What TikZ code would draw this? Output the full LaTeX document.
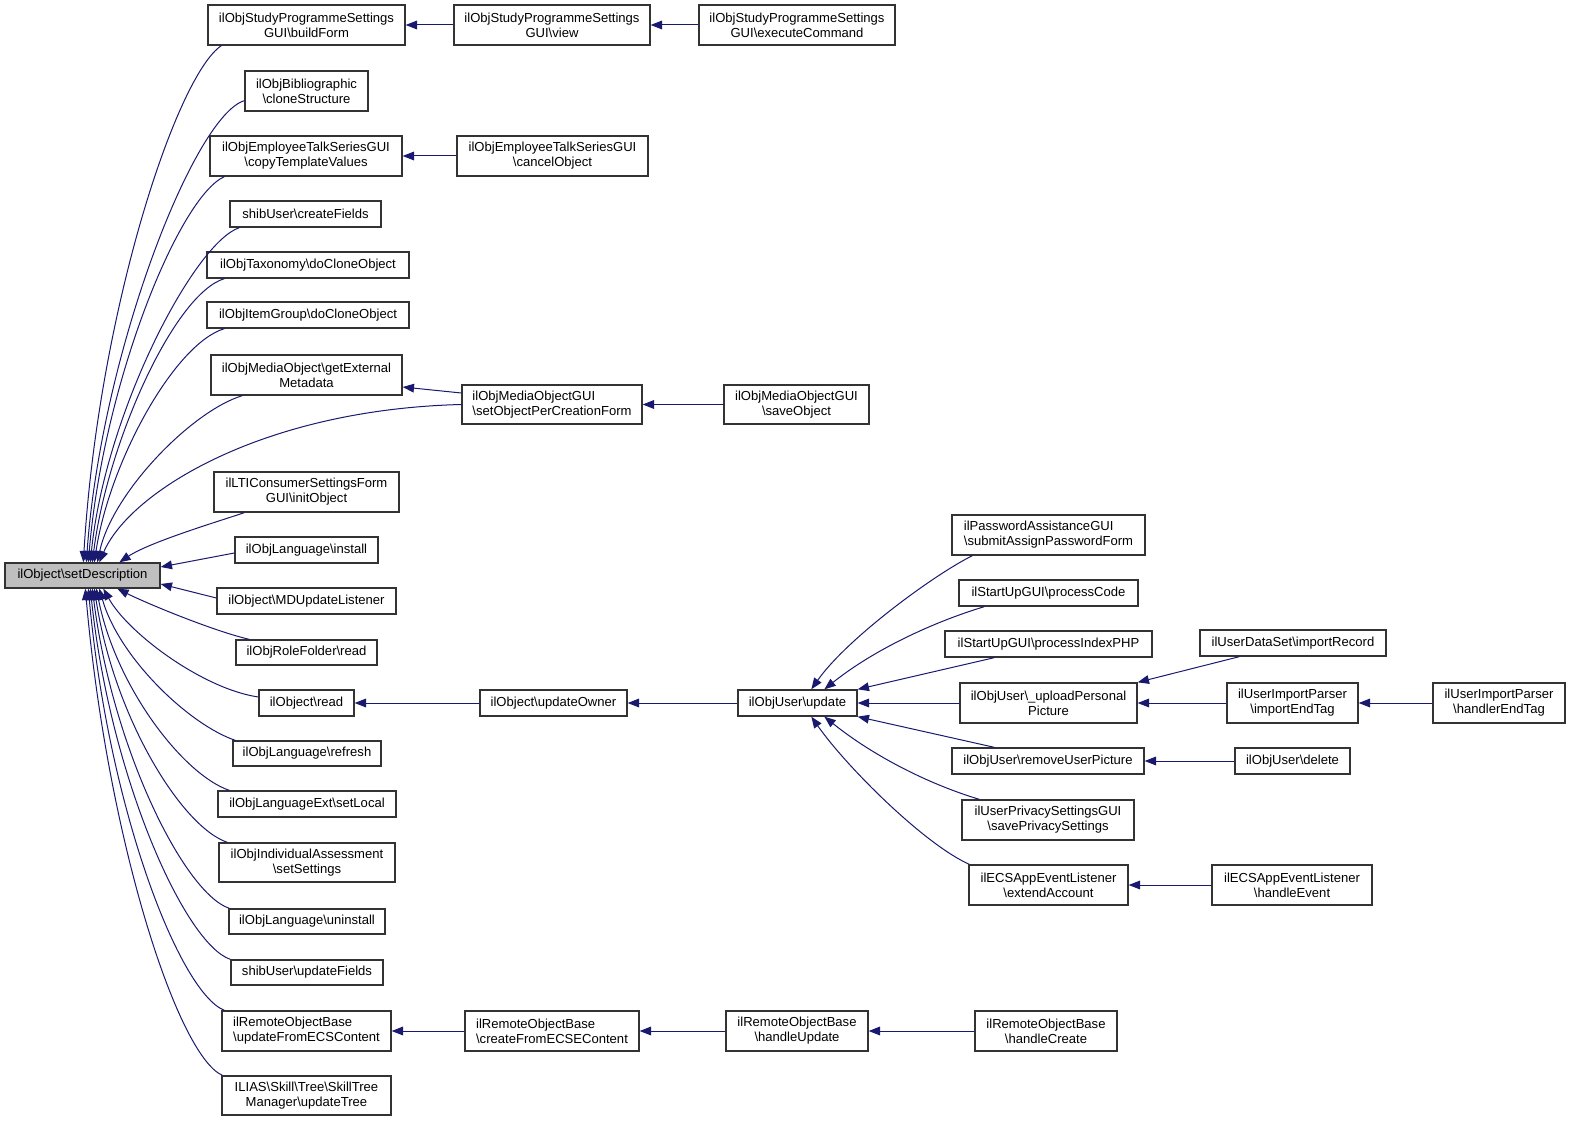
\documentclass[tikz,border=0pt]{standalone}
\usepackage{fontspec}
\setmainfont{Liberation Sans}
\usetikzlibrary{arrows.meta,calc}
\definecolor{edgeblue}{HTML}{191970}
\definecolor{rootgray}{HTML}{BFBFBF}
\definecolor{boxline}{HTML}{333333}
\newcommand\bk{\textbackslash}
\newcommand\bx[7]{\node[box,#7,minimum width=#4*0.75pt,minimum height=#5*0.75pt] (#1) at (#2,#3) {#6};}
\begin{document}
\begin{tikzpicture}[x=0.75pt,y=-0.75pt,
  box/.style={draw=boxline, line width=1pt, fill=white, inner sep=0pt, font=\fontsize{9.8}{11.25}\selectfont},
  calledge/.style={draw=edgeblue, line width=0.75pt, {Triangle[length=8.5pt,width=6.5pt]}-}]
\fill[white] (0,0) rectangle (1571,1123);
\useasboundingbox (0,0) rectangle (1571,1123);
% root
\bx{root}{82.5}{575.5}{155}{25}{ilObject\bk setDescription}{fill=rootgray,align=center}
% column 1
\bx{c1}{306.5}{25}{197}{40}{ilObjStudyProgrammeSettings\\GUI\bk buildForm}{align=center}
\bx{c2}{306.5}{91}{123}{40}{ilObjBibliographic\\\bk cloneStructure}{align=center}
\bx{c3}{306}{156}{192}{40}{ilObjEmployeeTalkSeriesGUI\\\bk copyTemplateValues}{align=center}
\bx{c4}{305.5}{214}{151}{26}{shibUser\bk createFields}{align=center}
\bx{c5}{308}{265}{202}{26}{ilObjTaxonomy\bk doCloneObject}{align=center}
\bx{c6}{308}{315}{202}{26}{ilObjItemGroup\bk doCloneObject}{align=center}
\bx{c7}{306.5}{375}{191}{40}{ilObjMediaObject\bk getExternal\\Metadata}{align=center}
\bx{c8}{306.5}{492}{185}{40}{ilLTIConsumerSettingsForm\\GUI\bk initObject}{align=center}
\bx{c9}{306.5}{550}{143}{26}{ilObjLanguage\bk install}{align=center}
\bx{c10}{306.5}{601}{179}{26}{ilObject\bk MDUpdateListener}{align=center}
\bx{c11}{306.5}{652.5}{141}{25}{ilObjRoleFolder\bk read}{align=center}
\bx{c12}{306.5}{703}{95}{26}{ilObject\bk read}{align=center}
\bx{c13}{307}{753.5}{148}{25}{ilObjLanguage\bk refresh}{align=center}
\bx{c14}{307}{804}{178}{26}{ilObjLanguageExt\bk setLocal}{align=center}
\bx{c15}{307}{862.5}{176}{39}{ilObjIndividualAssessment\\\bk setSettings}{align=center}
\bx{c16}{307}{921.5}{156}{25}{ilObjLanguage\bk uninstall}{align=center}
\bx{c17}{307}{972.5}{152}{25}{shibUser\bk updateFields}{align=center}
\bx{c18}{306.5}{1031}{169}{40}{ilRemoteObjectBase\\\bk updateFromECSContent}{align=left}
\bx{c19}{306.5}{1095.5}{169}{39}{ILIAS\bk Skill\bk Tree\bk SkillTree\\Manager\bk updateTree}{align=center}
% column 2
\bx{view}{552}{25}{196}{40}{ilObjStudyProgrammeSettings\\GUI\bk view}{align=center}
\bx{cancel}{552.5}{156}{191}{40}{ilObjEmployeeTalkSeriesGUI\\\bk cancelObject}{align=center}
\bx{setpcf}{552}{404.5}{180}{39}{ilObjMediaObjectGUI\\\bk setObjectPerCreationForm}{align=left}
\bx{owner}{553.5}{703}{147}{26}{ilObject\bk updateOwner}{align=center}
\bx{cfecse}{552}{1031}{174}{40}{ilRemoteObjectBase\\\bk createFromECSEContent}{align=left}
% column 3
\bx{exec}{797}{25}{196}{40}{ilObjStudyProgrammeSettings\\GUI\bk executeCommand}{align=center}
\bx{saveobj}{796.5}{404.5}{145}{39}{ilObjMediaObjectGUI\\\bk saveObject}{align=center}
\bx{update}{797.5}{703}{119}{26}{ilObjUser\bk update}{align=center}
\bx{hupdate}{797}{1031}{142}{40}{ilRemoteObjectBase\\\bk handleUpdate}{align=center}
% column 4
\bx{submit}{1048.5}{535}{193}{40}{ilPasswordAssistanceGUI\\\bk submitAssignPasswordForm}{align=left}
\bx{pcode}{1048.5}{593}{179}{26}{ilStartUpGUI\bk processCode}{align=center}
\bx{pindex}{1048.5}{644}{207}{26}{ilStartUpGUI\bk processIndexPHP}{align=center}
\bx{upload}{1048.5}{703}{177}{40}{ilObjUser\bk \_uploadPersonal\\Picture}{align=center}
\bx{rmpic}{1048}{761}{192}{26}{ilObjUser\bk removeUserPicture}{align=center}
\bx{privacy}{1048}{820}{172}{40}{ilUserPrivacySettingsGUI\\\bk savePrivacySettings}{align=center}
\bx{extend}{1048.5}{885}{159}{40}{ilECSAppEventListener\\\bk extendAccount}{align=center}
\bx{hcreate}{1046}{1031}{142}{40}{ilRemoteObjectBase\\\bk handleCreate}{align=center}
% column 5
\bx{irecord}{1293}{643}{186}{26}{ilUserDataSet\bk importRecord}{align=center}
\bx{iendtag}{1292.5}{703}{131}{40}{ilUserImportParser\\\bk importEndTag}{align=center}
\bx{udelete}{1292.5}{761}{115}{26}{ilObjUser\bk delete}{align=center}
\bx{hevent}{1292}{885}{160}{40}{ilECSAppEventListener\\\bk handleEvent}{align=center}
% column 6
\bx{hendtag}{1499}{703}{132}{40}{ilUserImportParser\\\bk handlerEndTag}{align=center}

% edges into root (upper)
\draw[calledge] ($(root.north west)+(79,0)$) .. controls +(15,-250) and +(-45,30) .. ($(c1.south west)+(14,0)$);
\draw[calledge] ($(root.north west)+(82,0)$) .. controls +(15,-210) and +(-50,15) .. ($(c2.south west)+(0,-11)$);
\draw[calledge] ($(root.north west)+(84,0)$) .. controls +(15,-180) and +(-45,20) .. ($(c3.south west)+(15,0)$);
\draw[calledge] ($(root.north west)+(86,0)$) .. controls +(15,-150) and +(-45,15) .. ($(c4.south west)+(10,0)$);
\draw[calledge] ($(root.north west)+(88,0)$) .. controls +(15,-120) and +(-50,15) .. ($(c5.south west)+(18,0)$);
\draw[calledge] ($(root.north west)+(90,0)$) .. controls +(15,-100) and +(-50,15) .. ($(c6.south west)+(18,0)$);
\draw[calledge] ($(root.north west)+(93,0)$) .. controls +(15,-70) and +(-50,15) .. ($(c7.south west)+(32,0)$);
\draw[calledge] ($(root.north west)+(95,0)$) .. controls +(30,-70) and +(-200,5) .. (setpcf.west);
\draw[calledge] ($(root.north west)+(115,0)$) .. controls +(30,-20) and +(-30,10) .. ($(c8.south west)+(31,0)$);
\draw[calledge] ($(root.east)+(0,-8.5)$) -- ($(c9.west)+(0,3)$);
\draw[calledge] ($(root.east)+(0,8.5)$) -- ($(c10.west)+(0,-3)$);
% edges into root (lower)
\draw[calledge] ($(root.south west)+(113,0)$) .. controls +(30,15) and +(-35,-8) .. ($(c11.north west)+(14,0)$);
\draw[calledge] ($(root.south west)+(99,0)$) .. controls +(25,45) and +(-55,-8) .. ($(c12.west)+(0,-6)$);
\draw[calledge] ($(root.south west)+(95,0)$) .. controls +(20,70) and +(-45,-15) .. ($(c13.north west)+(3,0)$);
\draw[calledge] ($(root.south west)+(92,0)$) .. controls +(20,100) and +(-45,-15) .. ($(c14.north west)+(12,0)$);
\draw[calledge] ($(root.south west)+(90,0)$) .. controls +(20,130) and +(-45,-15) .. ($(c15.north west)+(9,0)$);
\draw[calledge] ($(root.south west)+(88,0)$) .. controls +(20,160) and +(-45,-15) .. ($(c16.north west)+(1,0)$);
\draw[calledge] ($(root.south west)+(86,0)$) .. controls +(20,190) and +(-45,-15) .. (c17.north west);
\draw[calledge] ($(root.south west)+(84,0)$) .. controls +(20,220) and +(-45,-18) .. ($(c18.north west)+(3,0)$);
\draw[calledge] ($(root.south west)+(81,0)$) .. controls +(22,250) and +(-45,-20) .. ($(c19.north west)+(1,0)$);
% other edges
\draw[calledge] (c1.east) -- (view.west);
\draw[calledge] (view.east) -- (exec.west);
\draw[calledge] (c3.east) -- (cancel.west);
\draw[calledge] ($(c7.east)+(0,12)$) -- ($(setpcf.west)+(0,-11.5)$);
\draw[calledge] (setpcf.east) -- (saveobj.west);
\draw[calledge] (c12.east) -- (owner.west);
\draw[calledge] (owner.east) -- (update.west);
\draw[calledge] (c18.east) -- (cfecse.west);
\draw[calledge] (cfecse.east) -- (hupdate.west);
\draw[calledge] (hupdate.east) -- (hcreate.west);
% into ilObjUser\update
\draw[calledge] ($(update.north west)+(74,0)$) .. controls +(35,-50) and +(-40,20) .. ($(submit.south west)+(21,0)$);
\draw[calledge] ($(update.north west)+(87,0)$) .. controls +(50,-40) and +(-50,15) .. ($(pcode.south west)+(26,0)$);
\draw[calledge] (update.north east) -- ($(pindex.south west)+(50,0)$);
\draw[calledge] (update.east) -- (upload.west);
\draw[calledge] (update.south east) -- ($(rmpic.north west)+(43,0)$);
\draw[calledge] ($(update.south west)+(87,0)$) .. controls +(50,40) and +(-50,-15) .. ($(privacy.north west)+(18,0)$);
\draw[calledge] ($(update.south west)+(74,0)$) .. controls +(35,50) and +(-45,-20) .. ($(extend.north west)+(1,0)$);
% column 4/5/6
\draw[calledge] (upload.north east) -- ($(irecord.south west)+(40,0)$);
\draw[calledge] (upload.east) -- (iendtag.west);
\draw[calledge] (iendtag.east) -- (hendtag.west);
\draw[calledge] (rmpic.east) -- (udelete.west);
\draw[calledge] (extend.east) -- (hevent.west);
\end{tikzpicture}
\end{document}
